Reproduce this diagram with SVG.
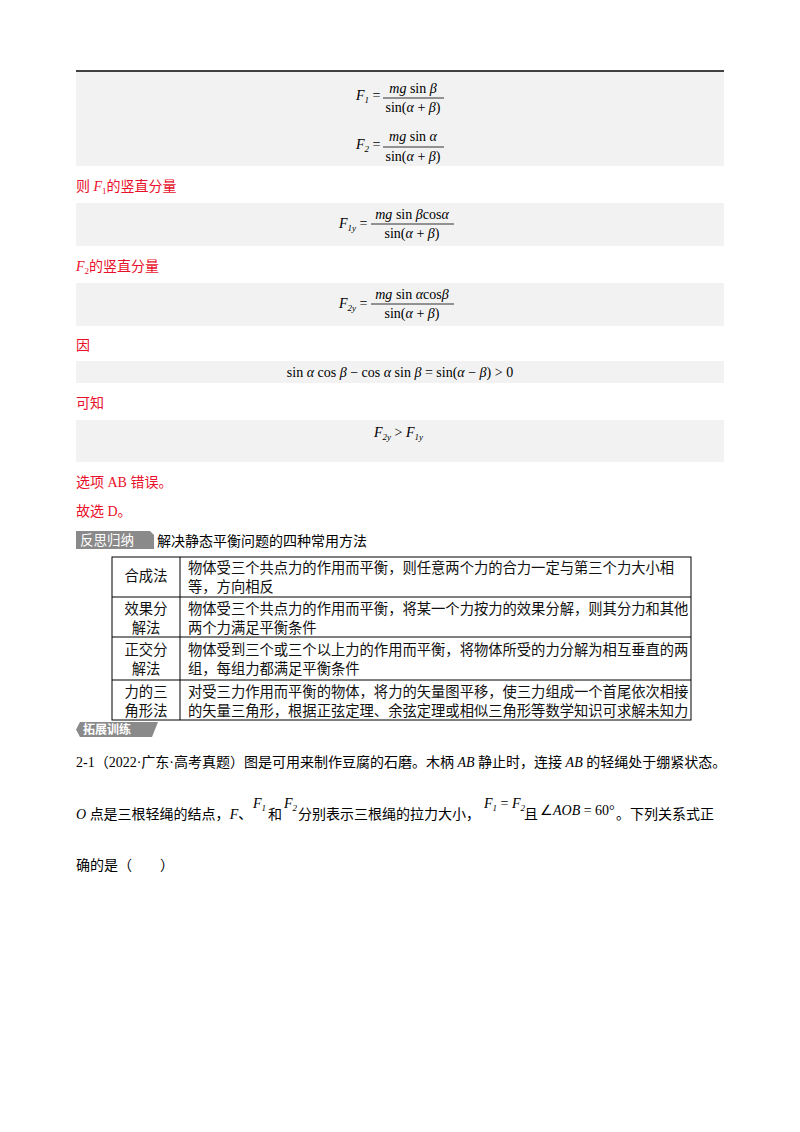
<svg xmlns="http://www.w3.org/2000/svg" width="800" height="1132" viewBox="0 0 800 1132">
<style>
.bg{fill:#f2f2f2}
.m{font-family:"Liberation Serif",serif;font-size:14px;fill:#000}
.i{font-style:italic}
.s{font-size:9px}
.r{font-family:"Liberation Serif","Noto Sans CJK SC",serif;font-size:14px;fill:#e8102a}
.t{font-family:"Liberation Serif","Noto Sans CJK SC",serif;font-size:14px;fill:#000}
.c{text-anchor:middle}
.ln{stroke:#000;stroke-width:0.8}
.tb{fill:none;stroke:#000;stroke-width:1}
</style>
<rect width="800" height="1132" fill="#fff"/>
<line x1="76" y1="71" x2="724" y2="71" stroke="#000" stroke-width="1.5"/>
<g id="formulas">
<rect class="bg" x="76" y="72" width="648" height="94"/>
<text class="m i" x="356" y="100">F<tspan class="s" dy="3">1</tspan><tspan dy="-3" font-style="normal"> =</tspan></text>
<text class="m c" x="413" y="93"><tspan class="i">mg</tspan> sin <tspan class="i">β</tspan></text>
<line class="ln" x1="383" y1="98" x2="444" y2="98"/>
<text class="m c" x="413" y="112">sin(<tspan class="i">α</tspan> + <tspan class="i">β</tspan>)</text>
<text class="m i" x="356" y="149">F<tspan class="s" dy="3">2</tspan><tspan dy="-3" font-style="normal"> =</tspan></text>
<text class="m c" x="413" y="141"><tspan class="i">mg</tspan> sin <tspan class="i">α</tspan></text>
<line class="ln" x1="383" y1="147" x2="444" y2="147"/>
<text class="m c" x="413" y="161">sin(<tspan class="i">α</tspan> + <tspan class="i">β</tspan>)</text>
<text class="r" x="76" y="191">则 <tspan font-style="italic">F</tspan><tspan font-size="9" dy="3">1</tspan><tspan dy="-3">的竖直分量</tspan></text>
<rect class="bg" x="76" y="203" width="648" height="43"/>
<text class="m i" x="339" y="228">F<tspan class="s" dy="3">1y</tspan><tspan dy="-3" font-style="normal"> =</tspan></text>
<text class="m c" x="412" y="219"><tspan class="i">mg</tspan> sin <tspan class="i">β</tspan>cos<tspan class="i">α</tspan></text>
<line class="ln" x1="371" y1="224" x2="454" y2="224"/>
<text class="m c" x="412" y="238">sin(<tspan class="i">α</tspan> + <tspan class="i">β</tspan>)</text>
<text class="r" x="76" y="271"><tspan font-style="italic">F</tspan><tspan font-size="9" dy="3">2</tspan><tspan dy="-3">的竖直分量</tspan></text>
<rect class="bg" x="76" y="283" width="648" height="43"/>
<text class="m i" x="339" y="308">F<tspan class="s" dy="3">2y</tspan><tspan dy="-3" font-style="normal"> =</tspan></text>
<text class="m c" x="412" y="299"><tspan class="i">mg</tspan> sin <tspan class="i">α</tspan>cos<tspan class="i">β</tspan></text>
<line class="ln" x1="371" y1="304" x2="454" y2="304"/>
<text class="m c" x="412" y="318">sin(<tspan class="i">α</tspan> + <tspan class="i">β</tspan>)</text>
<text class="r" x="76" y="350">因</text>
<rect class="bg" x="76" y="361" width="648" height="22"/>
<text class="m c" x="400" y="377">sin <tspan class="i">α</tspan> cos <tspan class="i">β</tspan> − cos <tspan class="i">α</tspan> sin <tspan class="i">β</tspan> = sin(<tspan class="i">α</tspan> − <tspan class="i">β</tspan>) &gt; 0</text>
<text class="r" x="76" y="408">可知</text>
<rect class="bg" x="76" y="420" width="648" height="42"/>
<text class="m i" x="374" y="437">F<tspan class="s" dy="3">2y</tspan><tspan dy="-3" font-style="normal"> &gt; </tspan>F<tspan class="s" dy="3">1y</tspan></text>
<text class="r" x="76" y="487">选项 AB 错误。</text>
<text class="r" x="76" y="516">故选 D。</text>
</g>
<g id="summary">
<path d="M76,531 H150 L154,535 V549 H76 Z" fill="#8a8a8a"/>
<text x="80" y="545" font-family="Noto Sans CJK SC,sans-serif" font-size="13.5" fill="#fff">反思归纳</text>
<text class="t" x="157" y="546" font-size="14">解决静态平衡问题的四种常用方法</text>
<rect class="tb" x="112" y="557" width="579" height="163"/>
<line class="tb" x1="180" y1="557" x2="180" y2="720"/>
<line class="tb" x1="112" y1="597" x2="691" y2="597"/>
<line class="tb" x1="112" y1="637" x2="691" y2="637"/>
<line class="tb" x1="112" y1="680" x2="691" y2="680"/>
<g font-family="Noto Sans CJK SC,sans-serif" font-size="14.3" fill="#111">
<text x="146" y="581" text-anchor="middle">合成法</text>
<text x="146" y="614" text-anchor="middle">效果分</text><text x="146" y="633" text-anchor="middle">解法</text>
<text x="146" y="655" text-anchor="middle">正交分</text><text x="146" y="674" text-anchor="middle">解法</text>
<text x="146" y="697" text-anchor="middle">力的三</text><text x="146" y="716" text-anchor="middle">角形法</text>
<text x="188" y="573">物体受三个共点力的作用而平衡，则任意两个力的合力一定与第三个力大小相</text>
<text x="188" y="592">等，方向相反</text>
<text x="188" y="614">物体受三个共点力的作用而平衡，将某一个力按力的效果分解，则其分力和其他</text>
<text x="188" y="633">两个力满足平衡条件</text>
<text x="188" y="655">物体受到三个或三个以上力的作用而平衡，将物体所受的力分解为相互垂直的两</text>
<text x="188" y="674">组，每组力都满足平衡条件</text>
<text x="188" y="697">对受三力作用而平衡的物体，将力的矢量图平移，使三力组成一个首尾依次相接</text>
<text x="188" y="716">的矢量三角形，根据正弦定理、余弦定理或相似三角形等数学知识可求解未知力</text>
</g>
<path d="M80,722 H158 L152,737 H80 L76,729.5 Z" fill="#8a8a8a"/>
<text x="83" y="734" font-family="Noto Sans CJK SC,sans-serif" font-size="12" font-weight="bold" fill="#fff">拓展训练</text>
</g>
<g id="question">
<text class="t" x="76" y="767">2-1（2022·广东·高考真题）图是可用来制作豆腐的石磨。木柄 <tspan font-style="italic">AB</tspan> 静止时，连接 <tspan font-style="italic">AB</tspan> 的轻绳处于绷紧状态。</text>
<text class="t" x="76" y="819"><tspan font-style="italic">O</tspan> 点是三根轻绳的结点，<tspan font-style="italic">F</tspan>、</text>
<text class="m i" x="253" y="808" font-size="13">F<tspan class="s" dy="3">1</tspan></text>
<text class="t" x="268" y="819">和</text>
<text class="m i" x="284" y="808" font-size="13">F<tspan class="s" dy="3">2</tspan></text>
<text class="t" x="298" y="819">分别表示三根绳的拉力大小，</text>
<text class="m i" x="484" y="808" font-size="13">F<tspan class="s" dy="3">1</tspan><tspan dy="-3" font-style="normal"> = </tspan>F<tspan class="s" dy="3">2</tspan></text>
<text class="t" x="524" y="819">且</text>
<text class="m" x="540" y="815">∠<tspan class="i">AOB</tspan> = 60°</text>
<text class="t" x="616" y="819">。下列关系式正</text>
<text class="t" x="76" y="870">确的是（　　）</text>
</g>
</svg>
